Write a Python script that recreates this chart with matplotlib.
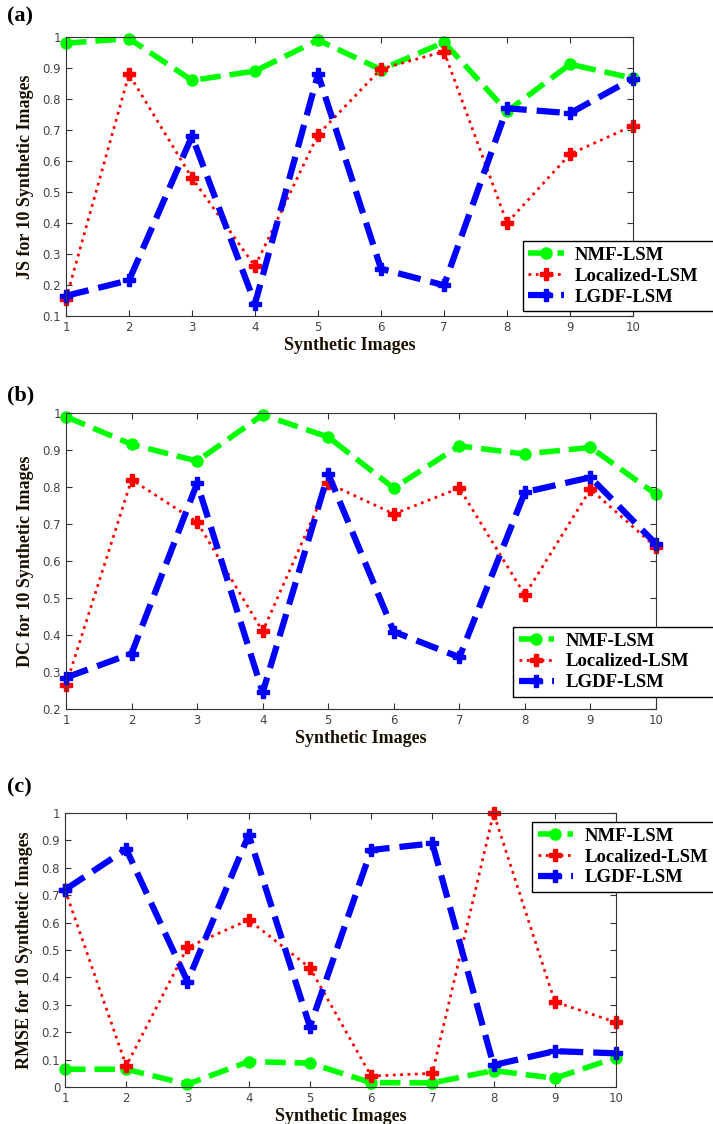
import numpy as np
import matplotlib.pyplot as plt

images = np.arange(1, 11)
series_names = ['NMF-LSM', 'Localized-LSM', 'LGDF-LSM']

js_nmf = [0.98, 0.995, 0.86, 0.89, 0.99, 0.895, 0.983, 0.76, 0.912, 0.867]
js_loc = [0.155, 0.88, 0.545, 0.26, 0.685, 0.897, 0.953, 0.40, 0.622, 0.714]
js_lgdf = [0.165, 0.215, 0.68, 0.14, 0.88, 0.252, 0.199, 0.77, 0.754, 0.866]

dc_nmf = [0.99, 0.915, 0.87, 0.995, 0.935, 0.797, 0.911, 0.889, 0.907, 0.78]
dc_loc = [0.265, 0.82, 0.705, 0.41, 0.81, 0.727, 0.797, 0.508, 0.794, 0.637]
dc_lgdf = [0.285, 0.35, 0.81, 0.245, 0.835, 0.409, 0.34, 0.786, 0.826, 0.646]

rmse_nmf = [0.065, 0.065, 0.01, 0.093, 0.087, 0.016, 0.015, 0.06, 0.032, 0.107]
rmse_loc = [0.72, 0.077, 0.51, 0.61, 0.435, 0.04, 0.05, 1.0, 0.311, 0.236]
rmse_lgdf = [0.72, 0.868, 0.385, 0.92, 0.22, 0.865, 0.889, 0.08, 0.131, 0.123]

serif = 'Liberation Serif'

fig = plt.figure(figsize=(7.13, 11.24), dpi=100)

panels = [
    ('(a)', 'JS for 10 Synthetic Images', js_nmf, js_loc, js_lgdf,
     [0.0926, 0.7189, 0.7952, 0.2482], (0.1, 1.0), (0.733, 0.723), 0.985),
    ('(b)', 'DC for 10 Synthetic Images', dc_nmf, dc_loc, dc_lgdf,
     [0.0926, 0.3692, 0.8275, 0.2634], (0.2, 1.0), (0.7195, 0.380), 0.648),
    ('(c)', 'RMSE for 10 Synthetic Images', rmse_nmf, rmse_loc, rmse_lgdf,
     [0.0912, 0.0329, 0.7728, 0.2438], (0.0, 1.0), (0.746, 0.2064), 0.299),
]

for tag, ylab, nmf, loc, lgdf, rect, ylim, leg_pos, tag_y in panels:
    ax = fig.add_axes(rect)
    ax.plot(images, nmf, color=(0, 1, 0), linestyle='--', linewidth=4,
            marker='o', markersize=8, label=series_names[0], clip_on=False)
    ax.plot(images, loc, color=(1, 0, 0), linestyle=':', linewidth=2,
            marker='P', markersize=8, label=series_names[1], clip_on=False)
    ax.plot(images, lgdf, color=(0, 0, 1), linestyle='--', linewidth=4.5,
            marker='P', markersize=8, label=series_names[2], clip_on=False)

    ax.set_xlim(1, 10)
    ax.set_ylim(*ylim)
    ax.set_xticks(images)
    yt = np.round(np.arange(ylim[0], 1.0001, 0.1), 1)
    ax.set_yticks(yt)
    ax.set_yticklabels([f'{v:g}' for v in yt])
    ax.tick_params(direction='in', top=True, right=True, labelsize=8.5,
                   labelcolor='#444444', color='#333333', length=4)
    for s in ax.spines.values():
        s.set_color('#333333')

    ax.set_xlabel('Synthetic Images', family=serif, weight='bold', fontsize=13,
                  color='#1a1000', labelpad=2)
    ax.set_ylabel(ylab, family=serif, weight='bold', fontsize=13,
                  color='#1a1000', labelpad=6)
    fig.text(0.01, tag_y, tag, family=serif, weight='bold', fontsize=16,
             ha='left', va='center')

    # legend box runs off the right edge like the original figure
    ax.legend(loc='lower left',
              bbox_to_anchor=(leg_pos[0], leg_pos[1], 1.005 - leg_pos[0], 0),
              mode='expand', bbox_transform=fig.transFigure, borderaxespad=0,
              prop={'family': serif, 'weight': 'bold', 'size': 13.5},
              fancybox=False, edgecolor='black', framealpha=1,
              handlelength=1.9, handletextpad=0.6, labelspacing=0.2,
              borderpad=0.3)

fig.savefig('out.png', dpi=100)
